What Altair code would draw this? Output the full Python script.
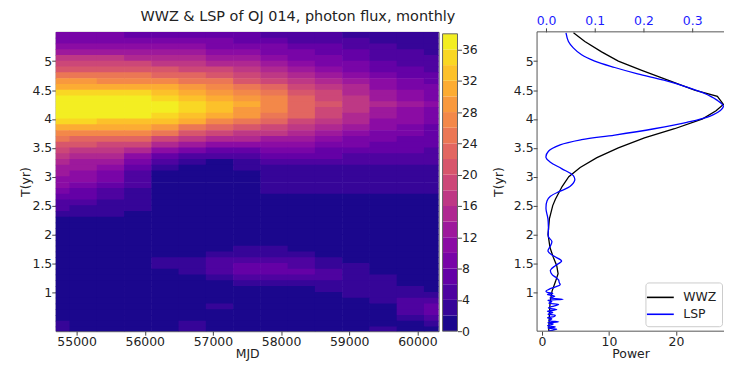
import altair as alt
import pandas as pd

TITLE = "WWZ & LSP of OJ 014, photon flux, monthly"

# ---------------- WWZ map ----------------
mjd_cols = [54700, 55100, 55500, 55900, 56300, 56700, 57100, 57500,
            57900, 58300, 58700, 59100, 59500, 59900, 60300]
t_rows = [5.45, 5.35, 5.25, 5.15, 5.05, 4.95, 4.85, 4.75, 4.65, 4.55, 4.45, 4.35, 4.25,
          4.15, 4.05, 3.95, 3.85, 3.75, 3.65, 3.55, 3.45, 3.35, 3.25, 3.15, 3.05, 2.95,
          2.85, 2.75, 2.65, 2.55, 2.45, 2.35, 2.25, 2.15, 2.05, 1.95, 1.85, 1.75, 1.65,
          1.55, 1.45, 1.35, 1.25, 1.15, 1.05, 0.95, 0.85, 0.75, 0.65, 0.55, 0.45, 0.35]
wwz_grid = [
    [8.0, 8.0, 8.0, 7.9, 7.7, 7.3, 6.9, 6.3, 5.6, 4.9, 4.2, 3.6, 2.9, 2.5, 2.1],
    [9.5, 9.5, 9.5, 9.4, 9.2, 8.7, 8.2, 7.4, 6.7, 5.8, 5.0, 4.2, 3.5, 3.0, 2.5],
    [11.5, 11.5, 11.5, 11.4, 11.1, 10.5, 9.9, 9.0, 8.1, 7.1, 6.0, 5.1, 4.2, 3.6, 3.0],
    [13.5, 13.5, 13.4, 13.4, 13.0, 12.3, 11.6, 10.6, 9.5, 8.3, 7.0, 6.0, 4.9, 4.2, 3.5],
    [16.0, 16.0, 16.0, 15.9, 15.5, 14.6, 13.8, 12.5, 11.3, 9.8, 8.4, 7.1, 5.9, 5.0, 4.2],
    [18.5, 18.5, 18.4, 18.4, 17.9, 16.9, 15.9, 14.5, 13.0, 11.4, 9.7, 8.2, 6.8, 5.8, 4.8],
    [21.5, 21.5, 21.4, 21.3, 20.8, 19.6, 18.5, 16.8, 15.1, 13.2, 11.2, 9.5, 7.9, 6.7, 5.6],
    [24.5, 24.5, 24.4, 24.3, 23.7, 22.4, 21.1, 19.2, 17.3, 15.0, 12.8, 10.9, 9.0, 7.7, 6.4],
    [28.0, 28.0, 27.9, 27.8, 27.0, 25.6, 24.1, 21.9, 19.7, 17.2, 14.6, 12.4, 10.2, 8.8, 7.3],
    [31.5, 31.5, 31.4, 31.2, 30.4, 28.8, 27.1, 24.7, 22.2, 19.3, 16.4, 14.0, 11.5, 9.9, 8.2],
    [34.5, 34.5, 34.4, 34.2, 33.3, 31.5, 29.7, 27.0, 24.3, 21.2, 18.0, 15.3, 12.6, 10.8, 9.0],
    [37.0, 37.0, 36.9, 36.7, 35.7, 33.8, 31.9, 29.0, 26.1, 22.7, 19.3, 16.4, 13.5, 11.6, 9.7],
    [38.3, 38.3, 38.2, 38.0, 37.0, 35.0, 33.0, 30.0, 27.0, 23.5, 20.0, 17.0, 14.0, 12.0, 10.0],
    [38.0, 38.0, 37.9, 37.7, 36.6, 34.6, 32.7, 29.7, 26.7, 23.3, 19.8, 16.8, 13.9, 11.9, 9.9],
    [36.5, 36.5, 36.4, 36.2, 35.2, 33.2, 31.0, 28.2, 25.3, 22.0, 18.8, 15.9, 13.1, 11.2, 9.4],
    [34.0, 34.0, 33.8, 33.5, 32.3, 30.2, 27.5, 25.0, 22.5, 19.5, 16.5, 14.0, 11.7, 10.0, 8.6],
    [31.0, 31.0, 30.7, 30.2, 28.5, 25.8, 22.5, 21.0, 19.0, 17.0, 14.5, 12.5, 10.5, 9.2, 7.9],
    [27.5, 27.5, 27.0, 26.2, 24.0, 21.0, 18.0, 17.5, 16.0, 14.5, 12.5, 11.0, 9.5, 8.4, 7.3],
    [24.0, 23.8, 23.2, 22.0, 19.5, 16.5, 14.0, 14.0, 13.5, 12.3, 10.8, 9.6, 8.5, 7.7, 6.8],
    [21.0, 20.6, 19.8, 18.0, 15.0, 12.0, 10.0, 10.5, 11.0, 10.2, 9.2, 8.3, 7.5, 7.0, 6.2],
    [18.0, 17.5, 16.5, 14.5, 11.0, 8.0, 7.0, 7.5, 8.5, 8.3, 7.6, 7.0, 6.5, 6.2, 5.5],
    [16.0, 15.3, 14.0, 11.5, 7.5, 4.5, 4.0, 5.0, 6.5, 6.5, 6.2, 5.8, 5.5, 5.3, 4.8],
    [14.5, 13.8, 12.0, 9.0, 4.5, 2.0, 1.8, 3.0, 4.8, 5.0, 4.8, 4.7, 4.5, 4.4, 4.2],
    [13.5, 12.5, 10.5, 7.0, 2.5, 1.2, 1.0, 2.2, 3.5, 3.8, 3.7, 3.6, 3.6, 3.5, 3.5],
    [12.5, 11.5, 9.0, 5.5, 1.8, 1.0, 0.9, 1.8, 3.0, 3.2, 3.2, 3.2, 3.1, 3.1, 3.2],
    [11.5, 10.5, 8.0, 4.5, 1.5, 0.9, 0.8, 1.5, 2.8, 2.9, 2.9, 2.9, 2.9, 2.9, 3.0],
    [10.0, 9.0, 6.8, 4.0, 1.3, 0.8, 0.8, 1.2, 2.6, 2.7, 2.7, 2.7, 2.7, 2.8, 2.8],
    [8.5, 7.5, 5.8, 3.5, 1.2, 0.8, 0.8, 1.0, 2.3, 2.5, 2.5, 2.5, 2.5, 2.5, 2.6],
    [6.5, 6.0, 4.8, 3.0, 1.1, 0.8, 0.8, 0.9, 1.5, 1.6, 1.6, 1.6, 1.6, 1.7, 1.8],
    [5.0, 4.8, 3.8, 2.6, 1.0, 0.8, 0.8, 0.8, 1.2, 1.2, 1.2, 1.2, 1.2, 1.3, 1.3],
    [4.0, 3.8, 3.0, 2.2, 1.0, 0.8, 0.8, 0.8, 1.0, 1.0, 1.0, 1.0, 1.0, 1.0, 1.0],
    [3.0, 2.8, 2.3, 1.5, 0.9, 0.8, 0.8, 0.8, 0.9, 0.9, 0.9, 0.9, 0.9, 0.9, 0.9],
    [1.8, 1.6, 1.4, 1.1, 0.9, 0.8, 0.8, 0.8, 0.9, 0.9, 0.9, 0.9, 0.9, 0.9, 0.9],
    [1.2, 1.1, 1.0, 0.9, 0.8, 0.8, 0.8, 0.8, 0.8, 0.8, 0.8, 0.8, 0.8, 0.8, 0.8],
    [0.9, 0.9, 0.9, 0.9, 0.9, 0.9, 0.9, 0.9, 0.9, 0.9, 0.9, 0.9, 0.9, 0.9, 0.9],
    [0.9, 0.9, 0.9, 0.9, 0.9, 0.9, 0.9, 0.9, 0.9, 0.9, 0.9, 0.9, 0.9, 0.9, 0.9],
    [0.9, 0.9, 0.9, 0.9, 0.9, 0.9, 1.0, 1.1, 1.1, 1.0, 0.9, 0.9, 0.9, 0.9, 0.9],
    [0.9, 0.9, 0.9, 0.9, 0.9, 0.9, 1.6, 2.2, 2.1, 1.6, 0.9, 0.9, 0.9, 0.9, 0.9],
    [0.9, 0.9, 0.9, 0.9, 1.0, 1.8, 2.6, 3.5, 3.2, 2.5, 1.6, 0.9, 0.9, 0.9, 0.9],
    [0.9, 0.9, 0.9, 1.2, 2.3, 2.8, 4.2, 5.5, 5.2, 4.0, 2.5, 1.5, 0.9, 0.9, 0.9],
    [0.9, 0.9, 0.9, 1.1, 2.1, 2.9, 4.6, 6.8, 6.8, 5.5, 3.2, 2.1, 1.2, 0.9, 0.9],
    [0.9, 0.9, 0.9, 0.9, 1.3, 2.1, 4.0, 6.5, 6.5, 6.2, 4.0, 2.6, 1.6, 1.0, 0.9],
    [0.9, 0.9, 0.9, 0.9, 0.9, 1.2, 2.4, 4.5, 5.0, 5.0, 4.0, 3.0, 2.1, 1.2, 1.0],
    [0.9, 0.9, 0.9, 0.9, 0.9, 0.9, 1.2, 2.2, 2.4, 2.8, 3.0, 3.2, 2.4, 1.5, 1.2],
    [0.9, 0.9, 0.9, 0.9, 0.9, 0.9, 0.9, 1.0, 1.2, 1.5, 2.2, 2.8, 3.0, 2.3, 1.6],
    [1.0, 0.9, 0.9, 0.9, 0.9, 0.9, 0.9, 0.9, 0.9, 1.0, 1.3, 2.0, 3.0, 3.2, 2.8],
    [1.0, 0.9, 0.9, 0.9, 0.9, 0.9, 0.9, 0.9, 0.9, 0.9, 1.0, 1.3, 2.4, 4.5, 4.5],
    [1.0, 0.9, 0.9, 0.9, 0.9, 0.9, 2.2, 0.9, 0.9, 0.9, 0.9, 1.0, 1.5, 5.0, 7.0],
    [1.0, 0.9, 0.9, 0.9, 0.9, 0.9, 1.2, 0.9, 0.9, 0.9, 0.9, 0.9, 1.2, 4.0, 6.5],
    [1.2, 0.9, 0.9, 0.9, 0.9, 1.3, 0.9, 0.9, 0.9, 0.9, 0.9, 0.9, 1.0, 2.5, 4.0],
    [2.5, 1.0, 0.9, 0.9, 0.9, 2.3, 0.9, 0.9, 0.9, 0.9, 0.9, 0.9, 1.2, 1.5, 2.2],
    [2.3, 1.0, 0.9, 0.9, 0.9, 2.1, 1.0, 0.9, 0.9, 0.9, 0.9, 0.9, 2.1, 1.0, 1.2],
]

# contour levels of the colour bar
levels = [0, 2, 4, 6, 8, 10, 12, 14, 16, 18, 20, 22, 24, 26, 28, 30, 32, 34, 36, 38]
cbar_ticks = [0, 4, 8, 12, 16, 20, 24, 28, 32, 36]

# ---------------- time-averaged WWZ and LSP ----------------
wwz_T = [0.33, 0.6, 0.82, 1.02, 1.18, 1.32, 1.46, 1.6, 1.77, 2.0, 2.27, 2.5, 2.61, 2.83,
         3.0, 3.16, 3.33, 3.5, 3.67, 3.83, 4.0, 4.14, 4.25, 4.39, 4.5, 4.67, 4.84, 5.0,
         5.16, 5.34, 5.49]
wwz_P = [1.0, 1.1, 1.2, 1.5, 2.0, 2.4, 2.2, 1.7, 1.2, 0.9, 1.1, 1.6, 2.0, 3.0,
         4.0, 5.7, 8.2, 11.4, 15.3, 19.8, 24.0, 26.0, 27.1, 26.2, 22.8, 18.8, 14.9, 11.4,
         8.9, 6.4, 4.7]
lsp_T = [0.33, 0.36, 0.38, 0.40, 0.42, 0.45, 0.47, 0.49, 0.51, 0.54, 0.56, 0.58, 0.60,
         0.62, 0.65, 0.67, 0.70, 0.73, 0.76, 0.79, 0.81, 0.84, 0.86, 0.88, 0.90, 0.93,
         0.96, 0.98, 1.00, 1.02, 1.05, 1.09, 1.13, 1.17, 1.21, 1.26, 1.30, 1.38, 1.46,
         1.54, 1.63, 1.71, 1.80, 1.88, 1.96, 2.10, 2.27, 2.44, 2.58, 2.66, 2.75, 2.83,
         2.94, 3.02, 3.14, 3.25, 3.33, 3.44, 3.55, 3.64, 3.72, 3.83, 3.94, 4.05, 4.14,
         4.22, 4.33, 4.45, 4.56, 4.67, 4.78, 4.89, 5.00, 5.11, 5.23, 5.34, 5.49]
lsp_L = [0.005, 0.022, 0.004, 0.019, 0.003, 0.015, 0.004, 0.026, 0.006, 0.012, 0.003,
         0.017, 0.019, 0.004, 0.014, 0.003, 0.022, 0.005, 0.016, 0.026, 0.006, 0.012,
         0.004, 0.035, 0.008, 0.018, 0.003, 0.014, 0.002, 0.000, 0.006, 0.018, 0.029,
         0.027, 0.026, 0.020, 0.013, 0.009, 0.019, 0.032, 0.015, 0.004, 0.009, 0.012,
         0.005, 0.005, 0.004, 0.000, 0.002, 0.009, 0.029, 0.049, 0.059, 0.056, 0.032,
         0.009, 0.000, 0.005, 0.029, 0.073, 0.141, 0.222, 0.289, 0.337, 0.357, 0.364,
         0.350, 0.323, 0.286, 0.242, 0.188, 0.141, 0.100, 0.073, 0.056, 0.046, 0.041]
series_names = ["WWZ", "LSP"]

# ---------------- styling ----------------
PLASMA = ["#0d0887", "#41049d", "#6a00a8", "#8f0da4", "#b12a90", "#cc4778",
          "#e16462", "#f2844b", "#fca636", "#fcce25", "#f0f921"]


def plasma(t):
    t = min(max(t, 0.0), 1.0)
    seg = min(int(t * 10), 9)
    f = t * 10 - seg
    a = PLASMA[seg]
    b = PLASMA[seg + 1]
    ca = [int(a[i:i + 2], 16) for i in (1, 3, 5)]
    cb = [int(b[i:i + 2], 16) for i in (1, 3, 5)]
    c = [round(ca[k] + (cb[k] - ca[k]) * f) for k in range(3)]
    return "#%02x%02x%02x" % tuple(c)


vmin, vmax = levels[0], levels[-1]
band_colors = [plasma(((levels[i] + levels[i + 1]) / 2 - vmin) / (vmax - vmin))
               for i in range(len(levels) - 1)]
color_scale = alt.Scale(type="threshold", domain=levels[1:-1], range=band_colors)

FONT = "DejaVu Sans"
TXT = "#222222"
SPINE = "#555555"
T_DOMAIN = [0.326, 5.507]
T_TICKS = [1, 1.5, 2, 2.5, 3, 3.5, 4, 4.5, 5]
RIGHT_W = 188
PANEL_H = 301

# ---------------- heat map ----------------
half_x = (mjd_cols[1] - mjd_cols[0]) / 2 + 4
half_y = abs(t_rows[0] - t_rows[1]) / 2 + 0.006
cells = []
for i, t in enumerate(t_rows):
    for j, m in enumerate(mjd_cols):
        cells.append({"x1": m - half_x, "x2": m + half_x,
                      "y1": t - half_y, "y2": t + half_y, "v": wwz_grid[i][j]})
cells = pd.DataFrame(cells)

heat = alt.Chart(cells).mark_rect(clip=True).encode(
    x=alt.X("x1:Q", scale=alt.Scale(domain=[54694, 60311], nice=False, zero=False),
            axis=alt.Axis(values=[55000, 56000, 57000, 58000, 59000, 60000],
                          format="d", title="MJD")),
    x2="x2:Q",
    y=alt.Y("y1:Q", scale=alt.Scale(domain=T_DOMAIN, nice=False, zero=False),
            axis=alt.Axis(values=T_TICKS, format="~g", title="T(yr)")),
    y2="y2:Q",
    color=alt.Color("v:Q", scale=color_scale, legend=None),
).properties(
    width=385, height=PANEL_H,
    title=alt.TitleParams(TITLE, fontSize=14.5, font=FONT, fontWeight="normal",
                          color=TXT, anchor="middle", dx=51, offset=7),
)

# ---------------- colour bar ----------------
cb = pd.DataFrame({"lo": levels[:-1], "hi": levels[1:],
                   "mid": [(a + b) / 2 for a, b in zip(levels[:-1], levels[1:])]})
cb_frame = pd.DataFrame({"lo": [levels[0]], "hi": [levels[-1]]})
cb_y = alt.Scale(domain=[0, 38.25], nice=False, zero=False)
cb_axis = alt.Axis(orient="right", values=cbar_ticks, format="d", title=None,
                   labelOverlap=False)
cbar_rects = alt.Chart(cb).mark_rect().encode(
    x=alt.value(0), x2=alt.value(15),
    y=alt.Y("lo:Q", scale=cb_y, axis=cb_axis),
    y2="hi:Q",
    color=alt.Color("mid:Q", scale=color_scale, legend=None),
)
cbar_frame = alt.Chart(cb_frame).mark_rect(filled=False, stroke="#666666", strokeWidth=1).encode(
    x=alt.value(0), x2=alt.value(15), y=alt.Y("lo:Q", scale=cb_y, axis=cb_axis), y2="hi:Q")
cbar = alt.layer(cbar_rects, cbar_frame).properties(
    width=15, height=PANEL_H, view=alt.ViewBackground(stroke="transparent"))

# empty spacer between colour bar and the right panel
spacer = alt.Chart(cb_frame).mark_point(opacity=0).encode(
    x=alt.X("lo:Q", axis=None), y=alt.Y("hi:Q", axis=None)
).properties(width=72, height=PANEL_H, view=alt.ViewBackground(stroke="transparent"))

# ---------------- WWZ / LSP panel ----------------
wwz_df = pd.DataFrame({"T": wwz_T, "P": wwz_P, "series": series_names[0]})
lsp_df = pd.DataFrame({"T": lsp_T, "L": lsp_L, "series": series_names[1]})
series_color = alt.Color(
    "series:N",
    scale=alt.Scale(domain=series_names, range=["#000000", "#0000ff"]),
    legend=alt.Legend(title=None, orient="none", legendX=109, legendY=252,
                      symbolType="M-1.5,0H1.5", symbolSize=324, symbolStrokeWidth=1.6,
                      labelFontSize=12.5, labelFont=FONT, labelColor=TXT,
                      strokeColor="#cccccc", fillColor="white", padding=5,
                      cornerRadius=3, rowPadding=0, labelOffset=13))
y_right = alt.Y("T:Q", scale=alt.Scale(domain=T_DOMAIN, nice=False, zero=False),
                axis=alt.Axis(values=T_TICKS, format="~g", title="T(yr)", titlePadding=8))

wwz_line = alt.Chart(wwz_df).mark_line(strokeWidth=1.3, clip=True).encode(
    x=alt.X("P:Q", scale=alt.Scale(domain=[-0.743, 27.19], nice=False, zero=False),
            axis=alt.Axis(orient="bottom", values=[0, 10, 20], title="Power")),
    y=y_right, order="T:Q", color=series_color)
lsp_line = alt.Chart(lsp_df).mark_line(strokeWidth=1.3, clip=True,
                                       interpolate="catmull-rom").encode(
    x=alt.X("L:Q", scale=alt.Scale(domain=[-0.0184, 0.3653], nice=False, zero=False),
            axis=alt.Axis(orient="top", values=[0, 0.1, 0.2, 0.3], format=".1f",
                          title=None, labelColor="#1a1aff")),
    y=y_right, order="T:Q", color=series_color)

spine_src = pd.DataFrame({"k": [0]})
spine_left = alt.Chart(spine_src).mark_rule(color=SPINE, strokeWidth=1).encode(
    x=alt.value(0), y=alt.value(0), y2=alt.value(PANEL_H))
spine_top = alt.Chart(spine_src).mark_rule(color=SPINE, strokeWidth=1).encode(
    x=alt.value(0), x2=alt.value(RIGHT_W), y=alt.value(0))
spine_bottom = alt.Chart(spine_src).mark_rule(color=SPINE, strokeWidth=1).encode(
    x=alt.value(0), x2=alt.value(RIGHT_W), y=alt.value(PANEL_H))

right = alt.layer(wwz_line, lsp_line, spine_left, spine_top, spine_bottom).resolve_scale(
    x="independent").properties(
    width=RIGHT_W, height=PANEL_H, view=alt.ViewBackground(stroke="transparent"))

chart = alt.hconcat(heat, cbar, spacer, right, spacing=4, bounds="flush").resolve_scale(
    x="independent", y="independent", color="independent"
).properties(
    padding={"left": 10, "top": 0, "right": 0, "bottom": 0},
    background="white",
).configure_view(stroke=SPINE, strokeWidth=1).configure_axis(
    labelFont=FONT, titleFont=FONT, labelFontSize=12.5, titleFontSize=12.5,
    labelColor=TXT, titleColor=TXT, titleFontWeight="normal", tickColor="#444444",
    tickSize=4, grid=False, domain=False, labelPadding=0, titlePadding=0,
)

chart.save("out.html", embed_options={"renderer": "svg", "actions": False})
